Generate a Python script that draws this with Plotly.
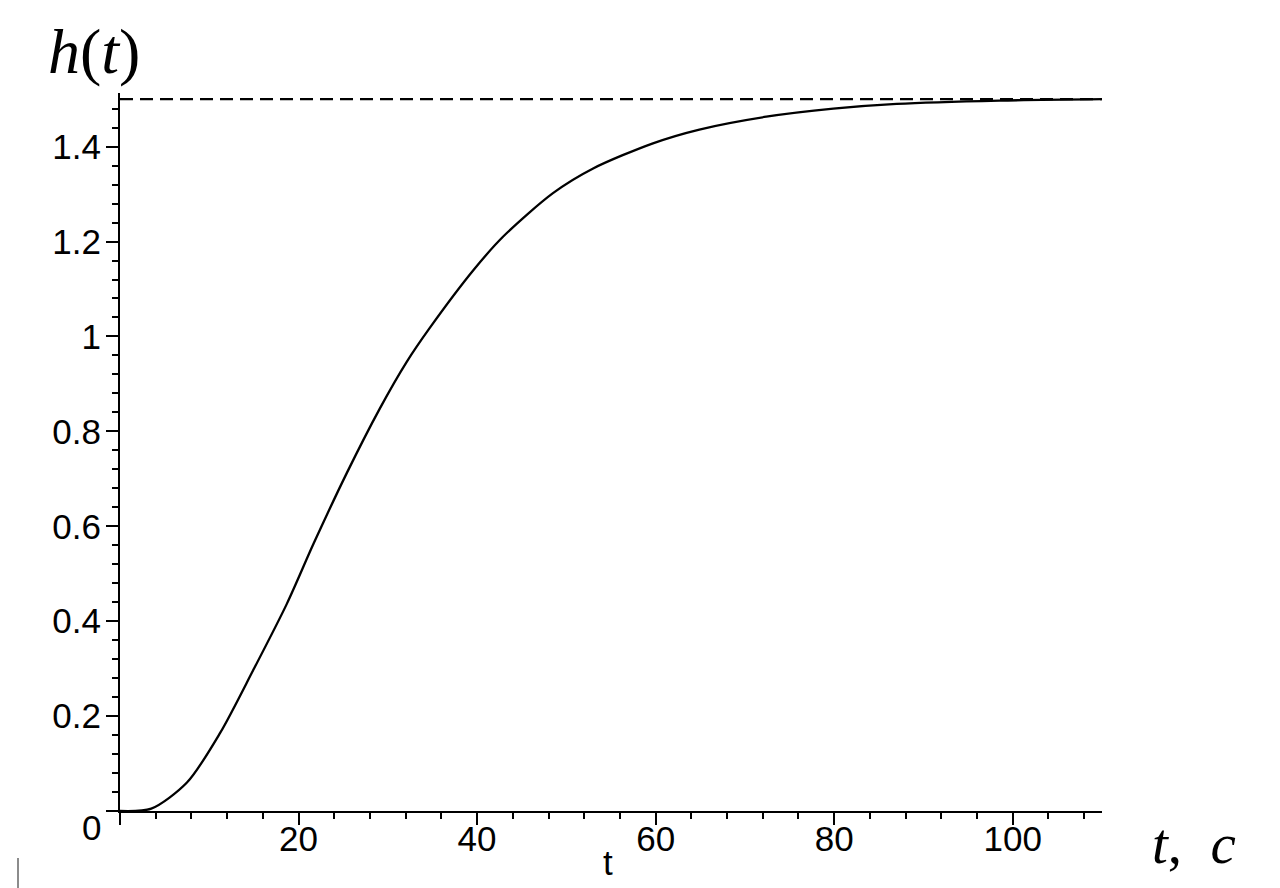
import plotly.graph_objects as go

# ---- data ----
t_vals = [0, 3.5, 7.5, 11.2, 14.9, 18.7, 21.7, 25.4, 29.1, 32.1, 34.7, 39.6,
          42.9, 48.5, 53.0, 59.7, 64.9, 72.4, 79.9, 87.0, 98.5, 110]
h_vals = [0, 0.005, 0.060, 0.164, 0.296, 0.437, 0.564, 0.712, 0.848, 0.946, 1.018,
          1.140, 1.210, 1.302, 1.354, 1.407, 1.436, 1.463, 1.480, 1.490, 1.497, 1.5]
asym_t = [0, 110]
asym_h = [1.5, 1.5]

x_tickvals = [0, 20, 40, 60, 80, 100]
x_ticktext = ["", "20", "40", "60", "80", "100"]
y_tickvals = [0, 0.2, 0.4, 0.6, 0.8, 1.0, 1.2, 1.4]
y_ticktext = ["", "0.2", "0.4", "0.6", "0.8", "1", "1.2", "1.4"]

OFF = 8  # page body margin
W, H = 1280, 888
# target plot area in page pixels: x 120..1102, y 93..811
L, T = 120 - OFF, 93 - OFF
R = W - (1102 - OFF)
B = H - (811 - OFF)
PW, PH = W - L - R, H - T - B

def px(x):
    return (x - OFF - L) / PW

def py(y):
    return (H - B - (y - OFF)) / PH

TICKFONT = dict(family="Liberation Sans, Arial, sans-serif", size=35, color="black")
SERIF = "Liberation Serif, Times New Roman, serif"

fig = go.Figure()
fig.add_trace(go.Scatter(x=asym_t, y=asym_h, mode="lines",
                         line=dict(color="black", width=2.2, dash="13px,7px"),
                         hoverinfo="skip"))
fig.add_trace(go.Scatter(x=t_vals, y=h_vals, mode="lines",
                         line=dict(color="black", width=2.3, shape="spline", smoothing=0.8),
                         hoverinfo="skip"))

fig.update_layout(
    width=W, height=H,
    margin=dict(l=L, r=R, t=T, b=B, pad=0),
    paper_bgcolor="white", plot_bgcolor="white",
    showlegend=False,
    xaxis=dict(range=[0, 110], showgrid=False, zeroline=False,
               showline=True, linecolor="black", linewidth=2,
               ticks="outside", ticklen=12, tickwidth=2, tickcolor="black",
               tickvals=x_tickvals, ticktext=x_ticktext, tickfont=TICKFONT,
               ticklabelstandoff=-16,
               minor=dict(dtick=4, tick0=0, ticks="outside", ticklen=6,
                          tickwidth=2, tickcolor="black", showgrid=False)),
    yaxis=dict(range=[0, 1.513], showgrid=False, zeroline=False,
               showline=True, linecolor="black", linewidth=2,
               ticks="outside", ticklen=12, tickwidth=2, tickcolor="black",
               tickvals=y_tickvals, ticktext=y_ticktext, tickfont=TICKFONT,
               ticklabelstandoff=-2,
               minor=dict(dtick=0.04, tick0=0, ticks="outside", ticklen=6,
                          tickwidth=2, tickcolor="black", showgrid=False)),
)

annos = [
    dict(text="<i>h</i>(<i>t</i>)", x=px(46), y=py(52), xanchor="left", yanchor="middle",
         font=dict(family=SERIF, size=64, color="black")),
    dict(text="<i>t</i>,\u00a0 <i>c</i>", x=px(1150), y=py(843), xanchor="left", yanchor="middle",
         font=dict(family=SERIF, size=57, color="black")),
    dict(text="t", x=px(608), y=py(862), xanchor="center", yanchor="middle",
         font=TICKFONT),
    dict(text="0", x=px(91.5), y=py(827.5), xanchor="center", yanchor="middle",
         font=TICKFONT),
]
for a in annos:
    fig.add_annotation(xref="paper", yref="paper", showarrow=False, **a)

fig.add_shape(type="line", xref="paper", yref="paper",
              x0=px(18), x1=px(18), y0=py(858), y1=py(888),
              line=dict(color="#8c8c8c", width=2))

fig.write_html("out.html")
